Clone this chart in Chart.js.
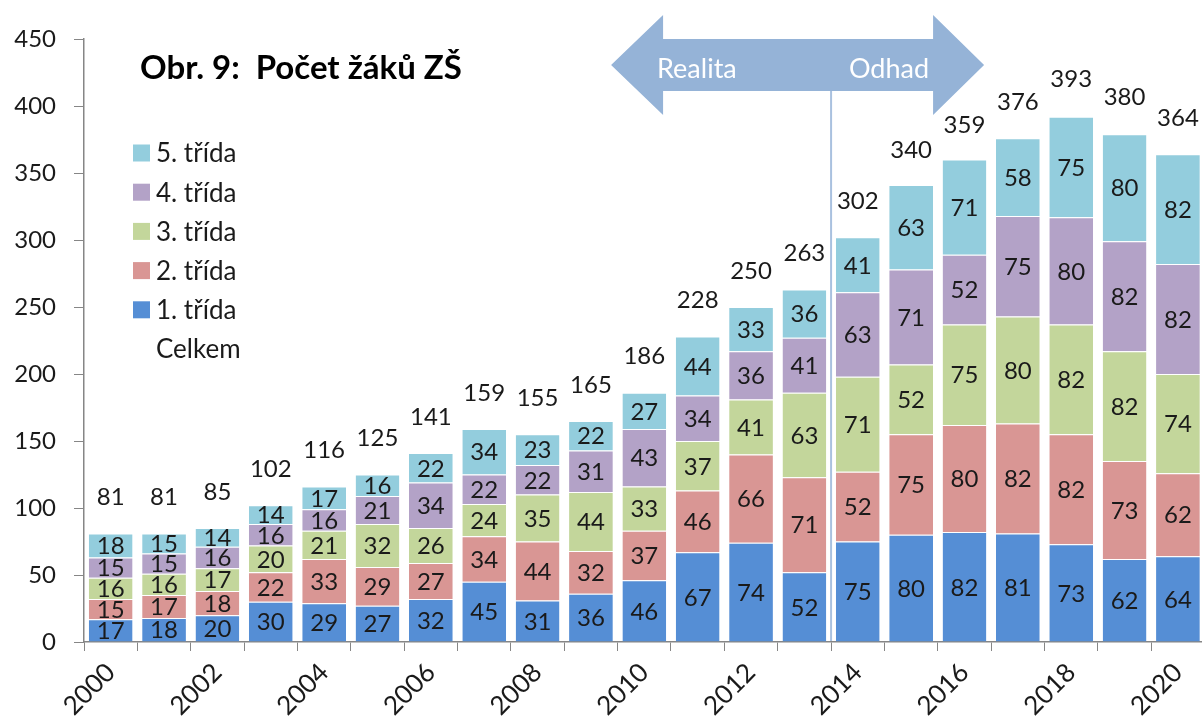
<!DOCTYPE html>
<html>
<head>
<meta charset="utf-8">
<script src="https://cdn.jsdelivr.net/npm/chart.js@4.4.0/dist/chart.umd.min.js"></script>
<style>
    html, body { margin: 0; padding: 0; overflow: hidden; background: #fff; }
    #wrap { width: 1202px; height: 720px; overflow: hidden; position: relative; }
    canvas { position: absolute; left: 0; top: 0; }
</style>
</head>
<body>
<div id="wrap"><canvas id="chart" width="1206" height="720"></canvas></div>
<script>
const years = ['2000', '2001', '2002', '2003', '2004', '2005', '2006', '2007', '2008', '2009', '2010',
    '2011', '2012', '2013', '2014', '2015', '2016', '2017', '2018', '2019', '2020'];
const trida1 = [17, 18, 20, 30, 29, 27, 32, 45, 31, 36, 46, 67, 74, 52, 75, 80, 82, 81, 73, 62, 64];
const trida2 = [15, 17, 18, 22, 33, 29, 27, 34, 44, 32, 37, 46, 66, 71, 52, 75, 80, 82, 82, 73, 62];
const trida3 = [16, 16, 17, 20, 21, 32, 26, 24, 35, 44, 33, 37, 41, 63, 71, 52, 75, 80, 82, 82, 74];
const trida4 = [15, 15, 16, 16, 16, 21, 34, 22, 22, 31, 43, 34, 36, 41, 63, 71, 52, 75, 80, 82, 82];
const trida5 = [18, 15, 14, 14, 17, 16, 22, 34, 23, 22, 27, 44, 33, 36, 41, 63, 71, 58, 75, 80, 82];
const celkem = [81, 81, 85, 102, 116, 125, 141, 159, 155, 165, 186, 228, 250, 263, 302, 340, 359, 376, 393, 380, 364];
const yTicks = [0, 50, 100, 150, 200, 250, 300, 350, 400, 450];
const lastRealIndex = 13; // 2013 = realita, od 2014 odhad

const FONT = 'Lato, "Noto Sans", sans-serif';
const TEXT = '#1a1a1a';

const makeSet = (label, data, color) => ({
    label: label,
    data: data,
    backgroundColor: color,
    borderColor: 'rgba(255,255,255,0.8)',
    borderWidth: { top: 1, left: 0, right: 0, bottom: 0 },
    borderSkipped: false,
    barPercentage: 0.82,
    categoryPercentage: 1.0
});

const overlayPlugin = {
    id: 'overlay',
    afterDatasetsDraw(chart) {
        const ctx = chart.ctx;
        ctx.save();
        ctx.font = '24px ' + FONT;
        ctx.fillStyle = TEXT;
        ctx.textAlign = 'center';
        ctx.textBaseline = 'middle';
        chart.data.datasets.forEach((ds, i) => {
            const meta = chart.getDatasetMeta(i);
            meta.data.forEach((bar, j) => {
                const p = bar.getProps(['x', 'y', 'base'], true);
                ctx.fillText(String(ds.data[j]), p.x, (p.y + p.base) / 2 + 1);
            });
        });
        const yScale = chart.scales.y;
        const meta0 = chart.getDatasetMeta(0);
        celkem.forEach((v, j) => {
            ctx.fillText(String(v), meta0.data[j].x, yScale.getPixelForValue(v) - 36);
        });
        ctx.restore();
    },
    afterDraw(chart) {
        const ctx = chart.ctx;
        const meta0 = chart.getDatasetMeta(0);
        const yScale = chart.scales.y;
        const dx = (meta0.data[lastRealIndex].x + meta0.data[lastRealIndex + 1].x) / 2;
        ctx.save();

        // divider line
        ctx.strokeStyle = '#a9c1df';
        ctx.lineWidth = 2;
        ctx.beginPath();
        ctx.moveTo(dx, 90);
        ctx.lineTo(dx, yScale.bottom - 1);
        ctx.stroke();

        // double arrow
        ctx.fillStyle = '#95b3d7';
        ctx.beginPath();
        ctx.moveTo(dx - 220, 65);
        ctx.lineTo(dx - 168, 15);
        ctx.lineTo(dx - 168, 39);
        ctx.lineTo(dx + 102, 39);
        ctx.lineTo(dx + 102, 15);
        ctx.lineTo(dx + 153, 65);
        ctx.lineTo(dx + 102, 115);
        ctx.lineTo(dx + 102, 91);
        ctx.lineTo(dx - 168, 91);
        ctx.lineTo(dx - 168, 115);
        ctx.closePath();
        ctx.fill();
        ctx.fillStyle = '#ffffff';
        ctx.font = '27px ' + FONT;
        ctx.textBaseline = 'middle';
        ctx.textAlign = 'left';
        ctx.fillText('Realita', dx - 174, 69);
        ctx.textAlign = 'right';
        ctx.fillText('Odhad', dx + 98, 69);

        // title
        ctx.fillStyle = '#000';
        ctx.font = 'bold 33px ' + FONT;
        ctx.textAlign = 'left';
        ctx.textBaseline = 'alphabetic';
        ctx.fillText('Obr. 9:  Počet žáků ZŠ', 140, 79);

        // legend
        ctx.font = '26px ' + FONT;
        ctx.textBaseline = 'middle';
        const sets = chart.data.datasets.slice().reverse();
        sets.forEach((ds, i) => {
            const cy = 153 + i * 39.2;
            ctx.fillStyle = ds.backgroundColor;
            ctx.fillRect(133, cy - 8.5, 17, 17);
            ctx.fillStyle = TEXT;
            ctx.fillText(ds.label, 156, cy + 1);
        });
        ctx.fillText('Celkem', 156, 153 + 5 * 39.2 + 1);
        ctx.restore();
    }
};

new Chart(document.getElementById('chart'), {
    type: 'bar',
    data: {
        labels: years,
        datasets: [
            makeSet('1. třída', trida1, '#558ed5'),
            makeSet('2. třída', trida2, '#d99694'),
            makeSet('3. třída', trida3, '#c3d69b'),
            makeSet('4. třída', trida4, '#b3a2c7'),
            makeSet('5. třída', trida5, '#93cddd')
        ]
    },
    options: {
        responsive: false,
        animation: false,
        layout: { padding: { top: 39, right: 0, left: 0, bottom: 0 } },
        plugins: {
            legend: { display: false },
            tooltip: { enabled: false }
        },
        scales: {
            x: {
                stacked: true,
                grid: {
                    display: true,
                    offset: true,
                    drawOnChartArea: false,
                    drawTicks: true,
                    tickLength: 9,
                    color: '#868686'
                },
                border: { display: true, color: '#868686', width: 1.5 },
                ticks: {
                    autoSkip: false,
                    minRotation: 45,
                    maxRotation: 45,
                    padding: 6,
                    color: TEXT,
                    font: { family: FONT, size: 26 },
                    callback: (value, index) => (index % 2 === 0 ? years[index] : '')
                },
                afterFit: (scale) => { scale.height = 78; }
            },
            y: {
                stacked: true,
                min: 0,
                max: 450,
                afterBuildTicks: (scale) => { scale.ticks = yTicks.map(v => ({ value: v })); },
                grid: {
                    display: true,
                    drawOnChartArea: false,
                    drawTicks: true,
                    tickLength: 10,
                    color: '#868686'
                },
                border: { display: true, color: '#868686', width: 1.5 },
                ticks: {
                    padding: 18,
                    color: TEXT,
                    font: { family: FONT, size: 24 }
                },
                afterFit: (scale) => { scale.width = 84; }
            }
        }
    },
    plugins: [overlayPlugin]
});
</script>
</body>
</html>
